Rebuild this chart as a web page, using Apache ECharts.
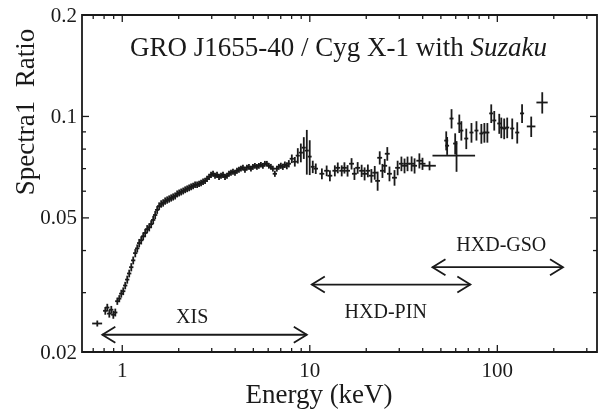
<!DOCTYPE html>
<html><head><meta charset="utf-8">
<script src="https://cdn.jsdelivr.net/npm/echarts@6/dist/echarts.min.js"></script>
<style>html,body{margin:0;padding:0;background:#fff}#c{width:600px;height:414px}</style>
</head><body><div id="c"></div>
<script>
// rows: [energy keV, ratio, energy half-error, ratio half-error]
const xisPoints = [
[0.736,0.0243,0.045,0.0005],[0.812,0.0265,0.022,0.0007],[0.832,0.0271,0.022,0.0007],[0.853,0.0260,0.023,0.0007],
[0.874,0.0267,0.023,0.0007],[0.896,0.0258,0.024,0.0007],[0.918,0.0262,0.024,0.0007],[0.941,0.0283,0.025,0.0007],
[0.964,0.0288,0.025,0.0007],[0.988,0.0298,0.026,0.0008],[1.012,0.0303,0.027,0.0008],[1.037,0.0315,0.027,0.0008],
[1.063,0.0328,0.028,0.0009],[1.089,0.0342,0.029,0.0009],[1.117,0.0357,0.030,0.0010],[1.144,0.0374,0.030,0.0010],
[1.173,0.0393,0.031,0.0011],[1.202,0.0406,0.032,0.0011],[1.231,0.0421,0.033,0.0012],[1.262,0.0429,0.033,0.0012],
[1.293,0.0441,0.034,0.0012],[1.325,0.0451,0.035,0.0013],[1.358,0.0463,0.036,0.0013],[1.392,0.0469,0.037,0.0013],
[1.426,0.0479,0.038,0.0013],[1.462,0.0493,0.039,0.0014],[1.498,0.0510,0.040,0.0014],[1.535,0.0528,0.041,0.0014],
[1.573,0.0542,0.042,0.0014],[1.612,0.0550,0.043,0.0014],[1.652,0.0554,0.044,0.0014],[1.693,0.0561,0.045,0.0014],
[1.735,0.0565,0.046,0.0014],[1.778,0.0569,0.047,0.0014],[1.822,0.0573,0.048,0.0014],[1.867,0.0577,0.050,0.0014],
[1.914,0.0581,0.051,0.0014],[1.962,0.0589,0.052,0.0014],[2.010,0.0593,0.053,0.0014],[2.060,0.0597,0.055,0.0014],
[2.112,0.0601,0.056,0.0014],[2.164,0.0606,0.058,0.0014],[2.217,0.0610,0.059,0.0014],[2.272,0.0614,0.060,0.0014],
[2.328,0.0618,0.062,0.0014],[2.386,0.0622,0.063,0.0014],[2.445,0.0627,0.065,0.0014],[2.506,0.0627,0.067,0.0014],
[2.568,0.0631,0.068,0.0014],[2.631,0.0635,0.070,0.0014],[2.697,0.0640,0.072,0.0014],[2.764,0.0644,0.073,0.0014],
[2.832,0.0653,0.075,0.0014],[2.903,0.0662,0.077,0.0014],[2.974,0.0671,0.079,0.0014],[3.048,0.0676,0.081,0.0014],
[3.124,0.0667,0.083,0.0014],[3.201,0.0671,0.085,0.0014],[3.281,0.0662,0.087,0.0014],[3.362,0.0667,0.089,0.0014],
[3.445,0.0671,0.091,0.0014],[3.531,0.0662,0.094,0.0014],[3.618,0.0667,0.096,0.0014],[3.708,0.0676,0.098,0.0014],
[3.800,0.0681,0.101,0.0014],[3.894,0.0685,0.103,0.0014],[3.991,0.0681,0.106,0.0014],[4.090,0.0690,0.108,0.0014],
[4.191,0.0695,0.111,0.0014],[4.295,0.0700,0.114,0.0014],[4.401,0.0705,0.117,0.0014],[4.511,0.0695,0.120,0.0014],
[4.622,0.0705,0.123,0.0014],[4.737,0.0709,0.126,0.0014],[4.855,0.0700,0.129,0.0014],[4.975,0.0709,0.132,0.0014],
[5.098,0.0714,0.135,0.0014],[5.225,0.0709,0.139,0.0014],[5.354,0.0714,0.142,0.0014],[5.487,0.0719,0.146,0.0014],
[5.623,0.0714,0.149,0.0014],[5.762,0.0724,0.153,0.0014],[5.905,0.0724,0.157,0.0014],[6.052,0.0714,0.161,0.0014],
[6.202,0.0709,0.165,0.0014],[6.355,0.0700,0.169,0.0014],[6.513,0.0676,0.173,0.0014],[6.674,0.0700,0.177,0.0014],
[6.840,0.0709,0.182,0.0014],[7.009,0.0714,0.186,0.0015],[7.183,0.0709,0.191,0.0015],[7.362,0.0719,0.196,0.0016],
[7.544,0.0714,0.200,0.0017],[7.731,0.0724,0.205,0.0018],[8.02,0.0749,0.21,0.0022],[8.32,0.0734,0.22,0.0024],
[8.63,0.0765,0.22,0.0040],[8.96,0.0781,0.23,0.0050],[9.29,0.0808,0.23,0.0060],[9.64,0.0792,0.24,0.0120],
[9.99,0.0760,0.24,0.0090],[10.37,0.0709,0.25,0.0030]
];
const pinPoints = [
[10.76,0.0700,0.30,0.0025],[11.6,0.0676,0.35,0.0025],[12.3,0.0690,0.37,0.0025],[12.8,0.0667,0.38,0.0025],
[13.6,0.0690,0.40,0.0026],[14.1,0.0704,0.42,0.0026],[14.8,0.0690,0.44,0.0026],[15.3,0.0704,0.46,0.0027],
[15.9,0.0690,0.48,0.0027],[16.7,0.0724,0.50,0.0028],[17.3,0.0676,0.52,0.0028],[18.0,0.0704,0.54,0.0028],
[18.9,0.0690,0.57,0.0029],[19.6,0.0676,0.59,0.0030],[20.4,0.0690,0.61,0.0030],[21.3,0.0667,0.64,0.0031],
[22.2,0.0681,0.67,0.0032],[23.0,0.0644,0.69,0.0042],[23.6,0.0754,0.71,0.0034],[24.4,0.0690,0.73,0.0033],
[25.1,0.0714,0.75,0.0034],[25.9,0.0775,0.78,0.0036],[26.6,0.0676,0.80,0.0034],[28.3,0.0658,0.85,0.0035],
[29.4,0.0704,0.88,0.0035],[30.8,0.0724,0.92,0.0036],[32.0,0.0714,1.0,0.0036],[33.2,0.0724,1.0,0.0036],
[34.9,0.0724,1.1,0.0037],[36.2,0.0714,1.1,0.0037],[38.4,0.0739,1.4,0.0038],[39.9,0.0724,1.5,0.0030],
[43.5,0.0714,3.5,0.0022]
];
const gsoPoints = [
[53.4,0.0848,1.3,0.0055],[54.0,0.0819,1.3,0.0050],[57.0,0.0986,1.4,0.0065],[59.6,0.0831,1.5,0.0060],
[60.6,0.0765,15.5,0.0080],[62.7,0.0953,1.5,0.0060],[64.3,0.0908,1.6,0.0060],[68.3,0.0860,1.7,0.0060],
[72.8,0.0896,1.8,0.0060],[77.4,0.0908,1.9,0.0060],[82.2,0.0890,2.0,0.0060],[85.3,0.0896,2.1,0.0060],
[88.5,0.0896,2.2,0.0060],[92.8,0.1021,2.3,0.0065],[96.3,0.0973,2.4,0.0065],[102.4,0.0953,2.5,0.0065],
[105.0,0.0927,2.6,0.0065],[108.8,0.0921,2.7,0.0065],[112.9,0.0927,2.8,0.0065],[120.1,0.0921,3.0,0.0065],
[127.7,0.0896,3.2,0.0065],[135.5,0.1021,3.4,0.0065],[151.6,0.0934,8.0,0.0065],[173.6,0.110,12.0,0.0080]
];

const xMajorTicks = [1, 10, 100];
const xTickLabels = ['1', '10', '100'];
const xMinorTicks = [0.7,0.8,0.9,2,3,4,5,6,7,8,9,20,30,40,50,60,70,80,90,200,300];
const yMajorTicks = [0.02, 0.05, 0.1, 0.2];
const yTickLabels = ['0.02', '0.05', '0.1', '0.2'];
const yMinorTicks = [0.03,0.04,0.06,0.07,0.08,0.09];

const detectorNames = ['XIS', 'HXD-PIN', 'HXD-GSO'];
const detectorLow = [0.783, 10.25, 45.1];
const detectorHigh = [9.64, 71.8, 224];
const detectorLevel = [0.0225, 0.0317, 0.0357];
const detectorLabelEnergy = [2.36, 25.4, 105];
const detectorLabelLevel = [0.0253, 0.0262, 0.0412];

const X_MIN = 0.61, X_MAX = 340, Y_MIN = 0.02, Y_MAX = 0.2;
const FONT = '"Liberation Serif", "Times New Roman", serif';
const INK = '#1a1a1a';

function errRender(params, api) {
  const x = api.value(0), y = api.value(1), dx = api.value(2), dy = api.value(3);
  const l = api.coord([x - dx, y]), r = api.coord([x + dx, y]);
  const t = api.coord([x, y + dy]), b = api.coord([x, y - dy]);
  const st = {stroke: INK, lineWidth: 1.8};
  return {type: 'group', children: [
    {type: 'line', shape: {x1: l[0], y1: l[1], x2: r[0], y2: r[1]}, style: st},
    {type: 'line', shape: {x1: t[0], y1: t[1], x2: b[0], y2: b[1]}, style: st}
  ]};
}
function xTickRender(params, api) {
  const v = api.value(0), len = api.value(2) ? 7 : 4;
  const b = api.coord([v, Y_MIN]), t = api.coord([v, Y_MAX]);
  const st = {stroke: INK, lineWidth: 1.3};
  return {type: 'group', children: [
    {type: 'line', shape: {x1: b[0], y1: b[1], x2: b[0], y2: b[1] - len}, style: st},
    {type: 'line', shape: {x1: t[0], y1: t[1], x2: t[0], y2: t[1] + len}, style: st}
  ]};
}
function yTickRender(params, api) {
  const v = api.value(1), len = api.value(2) ? 7 : 4;
  const l = api.coord([X_MIN, v]), r = api.coord([X_MAX, v]);
  const st = {stroke: INK, lineWidth: 1.3};
  return {type: 'group', children: [
    {type: 'line', shape: {x1: l[0], y1: l[1], x2: l[0] + len, y2: l[1]}, style: st},
    {type: 'line', shape: {x1: r[0], y1: r[1], x2: r[0] - len, y2: r[1]}, style: st}
  ]};
}
function xLabelRender(params, api) {
  const p = api.coord([api.value(0), Y_MIN]);
  return {type: 'text', x: p[0], y: p[1] + 19, style: {text: xTickLabels[params.dataIndex], font: '21px ' + FONT,
    fill: INK, align: 'center', verticalAlign: 'middle', textAlign: 'center', textVerticalAlign: 'middle'}};
}
function yLabelRender(params, api) {
  const p = api.coord([X_MIN, api.value(1)]);
  return {type: 'text', x: p[0] - 5, y: p[1] + 1, style: {text: yTickLabels[params.dataIndex], font: '21px ' + FONT,
    fill: INK, align: 'right', verticalAlign: 'middle', textAlign: 'right', textVerticalAlign: 'middle'}};
}
function arrowRender(params, api) {
  const lo = api.coord([api.value(0), api.value(2)]), hi = api.coord([api.value(1), api.value(2)]);
  const lab = api.coord([api.value(3), api.value(4)]);
  const st = {stroke: INK, lineWidth: 1.8, fill: null};
  const hl = 13, hh = 8;
  return {type: 'group', children: [
    {type: 'line', shape: {x1: lo[0], y1: lo[1], x2: hi[0], y2: hi[1]}, style: st},
    {type: 'polyline', shape: {points: [[lo[0] + hl, lo[1] - hh], [lo[0], lo[1]], [lo[0] + hl, lo[1] + hh]]}, style: st},
    {type: 'polyline', shape: {points: [[hi[0] - hl, hi[1] - hh], [hi[0], hi[1]], [hi[0] - hl, hi[1] + hh]]}, style: st},
    {type: 'text', x: lab[0], y: lab[1], style: {text: detectorNames[params.dataIndex], font: '20px ' + FONT, fill: INK,
      align: 'center', verticalAlign: 'middle', textAlign: 'center', textVerticalAlign: 'middle'}}
  ]};
}

const chart = echarts.init(document.getElementById('c'), null, {renderer: 'canvas'});
chart.setOption({
  animation: false,
  backgroundColor: '#fff',
  title: {
    text: '{n|GRO J1655-40 / Cyg X-1 with }{i|Suzaku}',
    left: 125, top: 30,
    textStyle: {fontWeight: 'normal', rich: {
      n: {fontFamily: FONT, fontSize: 27, fontWeight: 'normal', color: INK},
      i: {fontFamily: FONT, fontSize: 27, fontWeight: 'normal', fontStyle: 'italic', color: INK}
    }}
  },
  grid: {left: 82, right: 3, top: 15, bottom: 62, show: true, borderColor: INK, borderWidth: 1.8, backgroundColor: 'transparent'},
  xAxis: {type: 'log', logBase: 10, min: X_MIN, max: X_MAX,
    axisLine: {show: false}, axisTick: {show: false}, axisLabel: {show: false}, splitLine: {show: false}},
  yAxis: {type: 'log', logBase: 10, min: Y_MIN, max: Y_MAX,
    axisLine: {show: false}, axisTick: {show: false}, axisLabel: {show: false}, splitLine: {show: false}},
  graphic: [
    {type: 'text', x: 27, y: 112, rotation: Math.PI / 2,
      style: {text: 'Spectra1  Ratio', font: '27px ' + FONT, fill: INK, align: 'center', verticalAlign: 'middle'}},
    {type: 'text', x: 319, y: 396,
      style: {text: 'Energy (keV)', font: '27px ' + FONT, fill: INK, align: 'center', verticalAlign: 'middle'}}
  ],
  series: [
    {type: 'custom', name: 'xMajor', renderItem: xTickRender, silent: true, data: xMajorTicks.map(v => [v, Y_MIN, 1])},
    {type: 'custom', name: 'xMinor', renderItem: xTickRender, silent: true, data: xMinorTicks.map(v => [v, Y_MIN, 0])},
    {type: 'custom', name: 'yMajor', renderItem: yTickRender, silent: true, data: yMajorTicks.map(v => [X_MIN, v, 1])},
    {type: 'custom', name: 'yMinor', renderItem: yTickRender, silent: true, data: yMinorTicks.map(v => [X_MIN, v, 0])},
    {type: 'custom', name: 'xLabels', renderItem: xLabelRender, silent: true, data: xMajorTicks.map(v => [v, Y_MIN])},
    {type: 'custom', name: 'yLabels', renderItem: yLabelRender, silent: true, data: yMajorTicks.map(v => [X_MIN, v])},
    {type: 'custom', name: 'XIS', renderItem: errRender, silent: true, data: xisPoints},
    {type: 'custom', name: 'HXD-PIN', renderItem: errRender, silent: true, data: pinPoints},
    {type: 'custom', name: 'HXD-GSO', renderItem: errRender, silent: true, data: gsoPoints},
    {type: 'custom', name: 'detectors', renderItem: arrowRender, silent: true,
      encode: {x: [0, 1, 3], y: [2, 4]},
      data: detectorNames.map((n, i) => [detectorLow[i], detectorHigh[i], detectorLevel[i], detectorLabelEnergy[i], detectorLabelLevel[i]])}
  ]
});
</script>
</body></html>
